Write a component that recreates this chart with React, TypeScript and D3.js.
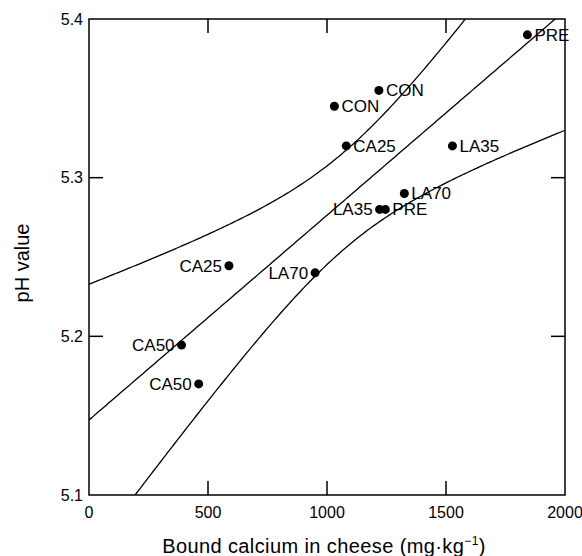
import React from "react";
import * as d3 from "d3";

const labels = ["PRE", "CON", "CON", "CA25", "LA35", "LA70", "LA35", "PRE", "LA70", "CA25", "CA50", "CA50"];
const boundCalcium = [1842, 1218, 1031, 1081, 1527, 1325, 1221, 1245, 950, 588, 389, 461];
const phValues = [5.39, 5.355, 5.345, 5.32, 5.32, 5.29, 5.28, 5.28, 5.24, 5.2445, 5.1945, 5.17];
const labelSide = ["right", "right", "right", "right", "right", "right", "left", "right", "left", "left", "left", "left"];
const xTicks = [0, 500, 1000, 1500, 2000];
const yTicks = [5.1, 5.2, 5.3, 5.4];
const bandMultiplier = 2.9;

const W = 582;
const H = 556;
const M = { left: 89, top: 19, right: 565, bottom: 495 };

export default function App() {
  const x = d3.scaleLinear().domain([0, 2000]).range([M.left, M.right]);
  const y = d3.scaleLinear().domain([5.1, 5.4]).range([M.bottom, M.top]);

  const n = boundCalcium.length;
  const mx = d3.mean(boundCalcium) as number;
  const my = d3.mean(phValues) as number;
  let sxx = 0, sxy = 0;
  for (let i = 0; i < n; i++) {
    sxx += (boundCalcium[i] - mx) ** 2;
    sxy += (boundCalcium[i] - mx) * (phValues[i] - my);
  }
  const slope = sxy / sxx;
  const intercept = my - slope * mx;
  let sse = 0;
  for (let i = 0; i < n; i++) sse += (phValues[i] - (intercept + slope * boundCalcium[i])) ** 2;
  const s = Math.sqrt(sse / (n - 2));

  const xs = d3.range(0, 2001, 10);
  const fit = (v: number) => intercept + slope * v;
  const hw = (v: number) => bandMultiplier * s * Math.sqrt(1 / n + (v - mx) ** 2 / sxx);
  const line = d3.line<[number, number]>().x((d) => x(d[0])).y((d) => y(d[1]));
  const mid = line(xs.map((v) => [v, fit(v)]));
  const up = line(xs.map((v) => [v, fit(v) + hw(v)]));
  const lo = line(xs.map((v) => [v, fit(v) - hw(v)]));

  const font = "'Liberation Sans', Arial, Helvetica, sans-serif";

  return (
    <svg width={W} height={H} style={{ position: "absolute", left: 0, top: 0, background: "#fff" }} fontFamily={font}>
      <defs>
        <clipPath id="plotclip">
          <rect x={M.left} y={M.top} width={M.right - M.left} height={M.bottom - M.top} />
        </clipPath>
      </defs>
      <g clipPath="url(#plotclip)" fill="none" stroke="#000" strokeWidth={1.3}>
        <path d={up || ""} />
        <path d={mid || ""} />
        <path d={lo || ""} />
      </g>
      <rect x={M.left} y={M.top} width={M.right - M.left} height={M.bottom - M.top} fill="none" stroke="#000" strokeWidth={1.5} />
      {xTicks.slice(1, -1).map((t) => (
        <g key={"xt" + t} stroke="#000" strokeWidth={1.5}>
          <line x1={x(t)} x2={x(t)} y1={M.bottom} y2={M.bottom - 14} />
          <line x1={x(t)} x2={x(t)} y1={M.top} y2={M.top + 14} />
        </g>
      ))}
      {yTicks.slice(1, -1).map((t) => (
        <g key={"yt" + t} stroke="#000" strokeWidth={1.5}>
          <line x1={M.left} x2={M.left + 14} y1={y(t)} y2={y(t)} />
          <line x1={M.right} x2={M.right - 14} y1={y(t)} y2={y(t)} />
        </g>
      ))}
      {xTicks.map((t) => (
        <text key={"xl" + t} x={x(t)} y={M.bottom + 12} dy="0.71em" textAnchor="middle" fontSize={16} fill="#000">
          {t}
        </text>
      ))}
      {yTicks.map((t) => (
        <text key={"yl" + t} x={M.left - 6} y={y(t)} dy="0.35em" textAnchor="end" fontSize={16} fill="#000">
          {t.toFixed(1)}
        </text>
      ))}
      {boundCalcium.map((v, i) => (
        <g key={"p" + i}>
          <circle cx={x(v)} cy={y(phValues[i])} r={4.5} fill="#000" />
          <text
            x={labelSide[i] === "right" ? x(v) + 7 : x(v) - 7}
            y={y(phValues[i])}
            dy="0.35em"
            textAnchor={labelSide[i] === "right" ? "start" : "end"}
            fontSize={17}
            fill="#000"
          >
            {labels[i]}
          </text>
        </g>
      ))}
      <text x={(M.left + M.right) / 2 - 3} y={553} textAnchor="middle" fontSize={20} letterSpacing={0.4} fill="#000">
        Bound calcium in cheese (mg·kg<tspan dy="-8" fontSize={12}>−1</tspan><tspan dy="8">)</tspan>
      </text>
      <text transform={`translate(29, ${(M.top + M.bottom) / 2 + 6}) rotate(-90)`} textAnchor="middle" fontSize={20} fill="#000">
        pH value
      </text>
    </svg>
  );
}
